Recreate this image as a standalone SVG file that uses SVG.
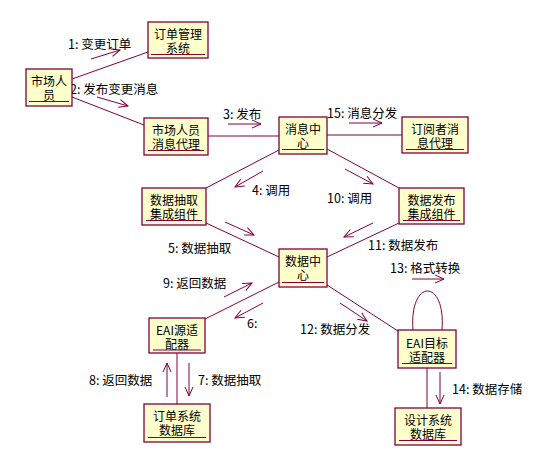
<svg xmlns="http://www.w3.org/2000/svg" width="554" height="469" viewBox="0 0 554 469">
<defs>
<style>
.box{fill:#FFFFCC;stroke:#800040;stroke-width:1.3}
.ul{stroke:#800040;stroke-width:1}
.t{font-family:"Noto Sans CJK SC","Liberation Sans",sans-serif;font-size:12px;fill:#000;text-anchor:middle}
.lb{font-family:"Noto Sans CJK SC","Liberation Sans",sans-serif;font-size:12.5px;fill:#000}
.ln{stroke:#800040;stroke-width:1;fill:none}
.msg{stroke:#800040;stroke-width:1;fill:none;marker-end:url(#ah)}
</style>
<marker id="ah" viewBox="-10 -5 11 10" markerWidth="11" markerHeight="10" refX="0" refY="0" orient="auto" markerUnits="userSpaceOnUse">
<path d="M-9,-4 L0,0 L-9,4" fill="none" stroke="#800040" stroke-width="1"/>
</marker>
</defs>
<rect width="554" height="469" fill="#fff"/>
<g id="connectors">
<line class="ln" x1="72" y1="79" x2="148" y2="52"/>
<line class="ln" x1="72" y1="97" x2="144" y2="125"/>
<line class="ln" x1="208" y1="136" x2="279" y2="136"/>
<line class="ln" x1="327" y1="135" x2="402" y2="135"/>
<line class="ln" x1="279" y1="150" x2="206" y2="188"/>
<line class="ln" x1="327" y1="149" x2="399" y2="188"/>
<line class="ln" x1="206" y1="223" x2="279" y2="257"/>
<line class="ln" x1="399" y1="223" x2="327" y2="257"/>
<line class="ln" x1="279" y1="282" x2="205" y2="319"/>
<line class="ln" x1="327" y1="285" x2="398" y2="331"/>
<line class="ln" x1="177" y1="353" x2="177" y2="404"/>
<line class="ln" x1="427" y1="368" x2="427" y2="408"/>
<path class="ln" d="M413,330 C409,278 446,278 442,330"/>
<line class="msg" x1="91" y1="59" x2="120" y2="50"/>
<line class="msg" x1="97" y1="97" x2="128" y2="106"/>
<line class="msg" x1="228" y1="124" x2="261" y2="124"/>
<line class="msg" x1="263" y1="171" x2="235" y2="187"/>
<line class="msg" x1="225" y1="222" x2="254" y2="235"/>
<line class="msg" x1="263" y1="303" x2="235" y2="318"/>
<line class="msg" x1="189" y1="363" x2="189" y2="396"/>
<line class="msg" x1="167" y1="397" x2="167" y2="363"/>
<line class="msg" x1="224" y1="297" x2="252" y2="283"/>
<line class="msg" x1="345" y1="169" x2="373" y2="184"/>
<line class="msg" x1="373" y1="223" x2="344" y2="237"/>
<line class="msg" x1="340" y1="303" x2="367" y2="321"/>
<line class="msg" x1="412" y1="279" x2="444" y2="279"/>
<line class="msg" x1="440" y1="372" x2="440" y2="404"/>
<line class="msg" x1="349" y1="123" x2="382" y2="123"/>
</g>
<g id="labels">
<text class="lb" x="68" y="49">1: 变更订单</text>
<text class="lb" x="70" y="94">2: 发布变更消息</text>
<text class="lb" x="223" y="119">3: 发布</text>
<text class="lb" x="252" y="195">4: 调用</text>
<text class="lb" x="168" y="253">5: 数据抽取</text>
<text class="lb" x="247" y="328">6:</text>
<text class="lb" x="198" y="385">7: 数据抽取</text>
<text class="lb" x="89" y="385">8: 返回数据</text>
<text class="lb" x="163" y="288">9: 返回数据</text>
<text class="lb" x="327" y="203">10: 调用</text>
<text class="lb" x="368" y="250">11: 数据发布</text>
<text class="lb" x="300" y="334">12: 数据分发</text>
<text class="lb" x="390" y="273">13: 格式转换</text>
<text class="lb" x="452" y="394">14: 数据存储</text>
<text class="lb" x="327" y="118">15: 消息分发</text>
</g>
<g id="n1"><rect class="box" x="26" y="69" width="46" height="37"/><text class="t" x="49" y="86">市场人<tspan x="49" dy="14">员</tspan></text><line class="ul" x1="29" y1="101.5" x2="69" y2="101.5"/></g>
<g id="n2"><rect class="box" x="148" y="22" width="60" height="36"/><text class="t" x="178" y="39">订单管理<tspan x="178" dy="14">系统</tspan></text><line class="ul" x1="151" y1="54.5" x2="205" y2="54.5"/></g>
<g id="n3"><rect class="box" x="144" y="118" width="64" height="37"/><text class="t" x="176" y="135">市场人员<tspan x="176" dy="14">消息代理</tspan></text><line class="ul" x1="148" y1="150.5" x2="204" y2="150.5"/></g>
<g id="n4"><rect class="box" x="279" y="117" width="48" height="37"/><text class="t" x="303" y="134">消息中<tspan x="303" dy="14">心</tspan></text><line class="ul" x1="282" y1="149.5" x2="324" y2="149.5"/></g>
<g id="n5"><rect class="box" x="402" y="117" width="66" height="36"/><text class="t" x="435" y="134">订阅者消<tspan x="435" dy="14">息代理</tspan></text><line class="ul" x1="406" y1="149.5" x2="464" y2="149.5"/></g>
<g id="n6"><rect class="box" x="142" y="188" width="64" height="37"/><text class="t" x="174" y="205">数据抽取<tspan x="174" dy="14">集成组件</tspan></text><line class="ul" x1="146" y1="220.5" x2="202" y2="220.5"/></g>
<g id="n7"><rect class="box" x="399" y="188" width="65" height="36"/><text class="t" x="431.5" y="205">数据发布<tspan x="431.5" dy="14">集成组件</tspan></text><line class="ul" x1="403" y1="220.5" x2="460" y2="220.5"/></g>
<g id="n8"><rect class="box" x="279" y="249" width="48" height="38"/><text class="t" x="303" y="266">数据中<tspan x="303" dy="14">心</tspan></text><line class="ul" x1="282" y1="282.5" x2="324" y2="282.5"/></g>
<g id="n9"><rect class="box" x="149" y="318" width="56" height="35"/><text class="t" x="177" y="335">EAI源适<tspan x="177" dy="14">配器</tspan></text><line class="ul" x1="153" y1="350" x2="201" y2="350"/></g>
<g id="n10"><rect class="box" x="398" y="330" width="58" height="38"/><text class="t" x="427" y="348">EAI目标<tspan x="427" dy="14">适配器</tspan></text><line class="ul" x1="402" y1="363.5" x2="452" y2="363.5"/></g>
<g id="n11"><rect class="box" x="144" y="404" width="66" height="38"/><text class="t" x="177" y="421">订单系统<tspan x="177" dy="14">数据库</tspan></text><line class="ul" x1="148" y1="437.5" x2="206" y2="437.5"/></g>
<g id="n12"><rect class="box" x="395" y="408" width="66" height="37"/><text class="t" x="428" y="425">设计系统<tspan x="428" dy="14">数据库</tspan></text><line class="ul" x1="399" y1="440.5" x2="457" y2="440.5"/></g>
</svg>
